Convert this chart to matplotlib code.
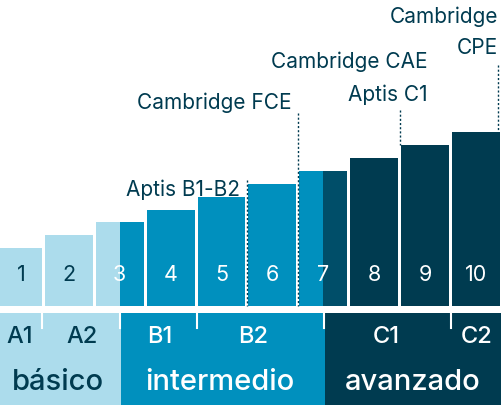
import matplotlib
matplotlib.use("Agg")
import matplotlib.pyplot as plt
from matplotlib.patches import Rectangle

levels = [1, 2, 3, 4, 5, 6, 7, 8, 9, 10]
heights = [58, 71, 84, 96, 109, 122, 135, 148, 161, 174]
codes = ["A1", "A2", "B1", "B2", "C1", "C2"]
code_bounds = [(0, 0.97), (0.97, 2.5), (2.5, 4), (4, 6.5), (6.5, 9), (9, 10)]
groups = ["básico", "intermedio", "avanzado"]
group_bounds = [(0, 2.5), (2.5, 6.5), (6.5, 10)]
annots = [(["Aptis B1-B2"], 5, [190], 180), (["Cambridge FCE"], 6, [103], 113),
          (["Cambridge CAE", "Aptis C1"], 8, [62, 95], 110), (["Cambridge", "CPE"], 10, [17, 48], 65)]

LIGHT, MED, DARK, DARK2 = "#acdcec", "#0090be", "#003b50", "#004e69"
plt.rcParams['font.family'] = ['Inter', 'DejaVu Sans']
fig = plt.figure(figsize=(5.01, 4.05), dpi=100)
ax = fig.add_axes([0, 0, 1, 1])
ax.set_xlim(0, 501); ax.set_ylim(405, 0); ax.axis('off')
W = 50.9; gap = 3; base = 306; off = -6
def px(i): return off + i * W
def bx(v): return min(max(px(v), 0), 501)
for i, h in enumerate(heights):
    x0 = px(i); w = W - gap
    if i < 2: parts = [(x0, w, LIGHT)]
    elif i == 2: parts = [(x0, w / 2, LIGHT), (x0 + w / 2, w / 2, MED)]
    elif i < 6: parts = [(x0, w, MED)]
    elif i == 6: parts = [(x0, w / 2, MED), (x0 + w / 2, w / 2, DARK2)]
    else: parts = [(x0, w, DARK)]
    for (xx, ww, c) in parts:
        ax.add_patch(Rectangle((xx, base - h), ww, h, color=c, lw=0))
    xc = max(x0, 0) + (x0 + w - max(x0, 0)) / 2
    ax.text(xc, 275, str(levels[i]), ha='center', va='center', fontsize=15.5,
            color=DARK if i < 2 else 'white')
gcol = [LIGHT, MED, DARK]
gx = [58, 220, 413]
for (a, b), c, g, x in zip(group_bounds, gcol, groups, gx):
    ax.add_patch(Rectangle((bx(a), 313), bx(b) - bx(a) if b < 10 else 501 - bx(a), 92, color=c, lw=0))
    ax.text(x, 382, g, ha='center', va='center', fontsize=21, fontweight='medium',
            color=DARK if c == LIGHT else 'white')
cx = [20, 82, 160, 253, 386, 477]
for t, x in zip(codes, cx):
    ax.text(x, 337, t, ha='center', va='center', fontsize=17, fontweight='medium',
            color=DARK if t.startswith("A") else 'white')
for a, _ in code_bounds[1:]:
    ax.plot([bx(a) - 1] * 2, [313, 328], color='white', lw=1.5)
for txts, bi, tys, ltop in annots:
    lx = px(bi) - 1.5 if bi < 10 else 498
    lbot = base - heights[bi] if bi == 8 else (base - heights[9] if bi == 10 else base)
    ax.plot([lx, lx], [ltop, lbot], color=DARK, lw=1, ls=(0, (1.5, 1.5)))
    rx = {5: 240, 6: 292, 8: 428, 10: 498}[bi]
    for t, ty in zip(txts, tys):
        ax.text(rx, ty, t, ha='right', va='center', fontsize=15, color=DARK)
fig.savefig("out.png", dpi=100)
